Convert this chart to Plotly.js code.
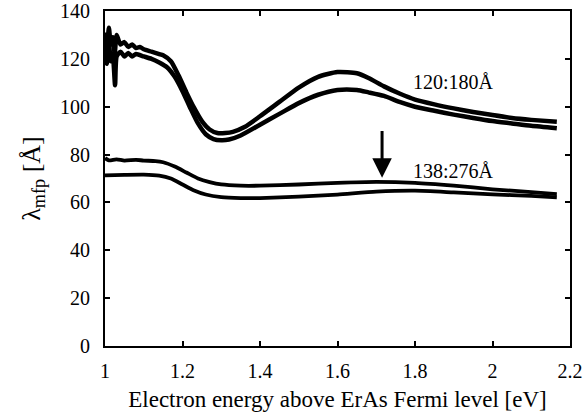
<!DOCTYPE html>
<html>
<head>
<meta charset="utf-8">
<script src="https://cdn.plot.ly/plotly-3.0.1.min.js"></script>
<style>html,body{margin:0;padding:0;background:#fff;}#chart{width:584px;height:417px;}</style>
</head>
<body>
<div id="chart"></div>
<script>
// Upper pair (120:180 Å), top curve
const xA = [1.000,1.005,1.010,1.015,1.020,1.025,1.030,1.040,1.050,1.060,1.070,1.080,1.090,1.100,1.120,1.140,1.150,1.170,1.190,1.210,1.230,1.250,1.270,1.290,1.310,1.330,1.360,1.400,1.450,1.500,1.550,1.600,1.650,1.680,1.720,1.760,1.800,1.850,1.900,1.950,2.000,2.050,2.100,2.166];
const yA = [131,124,133,126,129,122,130,126,127,125,126,124.5,125,124,123,122,121.5,119,113,106,99.5,94,90.5,89,89,89.5,91.5,96,102,108,112.5,114.5,114,112,108.5,105.5,103,101,99.3,97.8,96.5,95.3,94.5,93.7];
// Upper pair, bottom curve
const xB = [1.000,1.005,1.010,1.015,1.020,1.026,1.030,1.040,1.050,1.060,1.070,1.080,1.100,1.120,1.140,1.160,1.180,1.200,1.220,1.240,1.260,1.280,1.300,1.320,1.350,1.400,1.450,1.500,1.550,1.600,1.650,1.680,1.720,1.760,1.800,1.850,1.900,1.950,2.000,2.050,2.100,2.166];
const yB = [125,118,127,119,122,109,121,123,121,122.5,121,122,121,120,118.5,116.5,112.5,106.5,99.5,93,88.5,86.5,86,86.3,88,92.5,97,101.5,105,107,107,106,104.5,102,100,98.3,96.7,95.3,94,93,92,91];
// Lower pair (138:276 Å), top curve
const xC = [1.000,1.010,1.030,1.050,1.080,1.100,1.130,1.150,1.180,1.210,1.240,1.270,1.300,1.350,1.400,1.500,1.600,1.700,1.800,1.900,2.000,2.100,2.166];
const yC = [78.5,77.6,78,77.5,77.8,77.5,77.3,76.8,75,72.5,70,68.5,67.5,67,67,67.5,68.2,68.6,68.2,67,65.5,64.3,63.5];
// Lower pair, bottom curve
const xD = [1.000,1.050,1.100,1.140,1.170,1.200,1.230,1.260,1.300,1.350,1.400,1.500,1.600,1.700,1.800,1.900,2.000,2.100,2.166];
const yD = [71.3,71.5,71.6,71.2,70,67.5,65,63.3,62.2,61.8,61.8,62.4,63.3,64.5,64.9,64.2,63.4,62.7,62.1];

const labels = ["120:180Å", "138:276Å"];
const xTicks = [1, 1.2, 1.4, 1.6, 1.8, 2, 2.2];
const xTickText = ["1", "1.2", "1.4", "1.6", "1.8", "2", "2.2"];
const yTicks = [0, 20, 40, 60, 80, 100, 120, 140];

const font = "Liberation Serif, Times New Roman, serif";
const mk = (x, y, w) => ({x, y, type: "scatter", mode: "lines", line: {color: "#000", width: w, shape: "spline", smoothing: 0.6}, hoverinfo: "skip", showlegend: false});
const data = [mk(xA, yA, 4.5), mk(xB, yB, 4.5), mk(xC, yC, 3.8), mk(xD, yD, 3.8)];

const layout = {
  width: 584, height: 417,
  margin: {l: 105, r: 14, t: 11, b: 71},
  paper_bgcolor: "#fff", plot_bgcolor: "#fff",
  font: {family: font, size: 20, color: "#000"},
  showlegend: false,
  xaxis: {
    range: [1, 2.2], tickvals: xTicks, ticktext: xTickText,
    ticks: "inside", ticklen: 5, tickwidth: 2, tickcolor: "#000",
    showline: true, linecolor: "#000", linewidth: 2, mirror: "ticks",
    showgrid: false, zeroline: false,
    tickfont: {family: font, size: 20},
    ticklabelstandoff: 6,
    title: {text: "Electron energy above ErAs Fermi level [eV]", font: {family: font, size: 23}, standoff: 10}
  },
  yaxis: {
    range: [0, 140], tickvals: yTicks,
    ticks: "inside", ticklen: 5, tickwidth: 2, tickcolor: "#000",
    showline: true, linecolor: "#000", linewidth: 2, mirror: "ticks",
    showgrid: false, zeroline: false,
    tickfont: {family: font, size: 20},
    ticklabelstandoff: 9,
    title: {text: "λ<sub>mfp</sub> [Å]", font: {family: font, size: 26}, standoff: 12}
  },
  annotations: [
    {x: 1.9, y: 110.5, xref: "x", yref: "y", text: labels[0], showarrow: false, font: {family: font, size: 20}},
    {x: 1.9, y: 73.3, xref: "x", yref: "y", text: labels[1], showarrow: false, font: {family: font, size: 20}},
    {x: 1.715, y: 70.3, ax: 1.715, ay: 90.5, xref: "x", yref: "y", axref: "x", ayref: "y",
     text: "", showarrow: true, arrowhead: 2, arrowsize: 1.3, arrowwidth: 3, arrowcolor: "#000", standoff: 0}
  ]
};
Plotly.newPlot("chart", data, layout, {staticPlot: true, displayModeBar: false});
</script>
</body>
</html>
